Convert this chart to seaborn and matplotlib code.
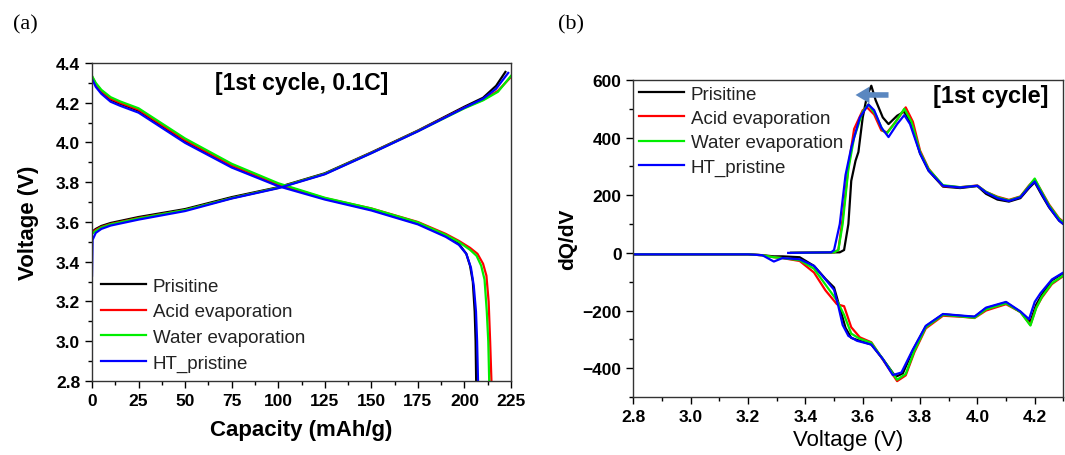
import numpy as np
import pandas as pd
import seaborn as sns
import matplotlib.pyplot as plt
from matplotlib.ticker import MultipleLocator

# ---- data ----
names = ["Prisitine", "Acid evaporation", "Water evaporation", "HT_pristine"]
colors = ["#000000", "#ff0000", "#00ee00", "#0000ff"]

# (a) charge curves: capacity (mAh/g) vs voltage (V)
cap_chg_pri = [0, 2, 5, 10, 25, 50, 75, 100, 125, 150, 175, 200, 210, 217, 222]
v_chg_pri = [3.55, 3.565, 3.58, 3.595, 3.625, 3.665, 3.725, 3.775, 3.845, 3.95, 4.06, 4.18, 4.225, 4.285, 4.355]
cap_chg_acid = [0, 2, 5, 10, 25, 50, 75, 100, 125, 150, 175, 200, 210, 218, 225]
v_chg_acid = [3.545, 3.56, 3.575, 3.59, 3.62, 3.66, 3.72, 3.772, 3.842, 3.948, 4.058, 4.175, 4.215, 4.26, 4.33]
cap_chg_water = [0, 2, 5, 10, 25, 50, 75, 100, 125, 150, 175, 200, 210, 218, 225]
v_chg_water = [3.54, 3.555, 3.572, 3.588, 3.618, 3.66, 3.72, 3.772, 3.842, 3.947, 4.057, 4.172, 4.212, 4.255, 4.335]
cap_chg_ht = [0, 0.3, 2, 5, 10, 25, 50, 75, 100, 125, 150, 175, 200, 210, 217, 223.5]
v_chg_ht = [3.33, 3.51, 3.545, 3.565, 3.582, 3.612, 3.655, 3.718, 3.77, 3.84, 3.946, 4.056, 4.175, 4.22, 4.27, 4.35]

# (a) discharge curves
cap_dis_pri = [0, 2, 5, 10, 15, 25, 50, 75, 100, 125, 150, 175, 190, 197, 201, 203, 204.5, 205.5, 206, 206.3]
v_dis_pri = [4.33, 4.29, 4.255, 4.215, 4.195, 4.16, 4.005, 3.88, 3.785, 3.717, 3.662, 3.592, 3.53, 3.49, 3.44, 3.38, 3.3, 3.15, 3.0, 2.8]
cap_dis_acid = [0, 2, 5, 10, 15, 25, 50, 75, 100, 125, 150, 175, 190, 197, 203, 207, 210, 211.8, 213, 213.8, 214.5]
v_dis_acid = [4.33, 4.295, 4.26, 4.22, 4.2, 4.165, 4.012, 3.885, 3.79, 3.72, 3.668, 3.6, 3.54, 3.505, 3.47, 3.44, 3.39, 3.33, 3.2, 3.0, 2.8]
cap_dis_water = [0, 2, 5, 10, 15, 25, 50, 75, 100, 125, 150, 175, 190, 197, 203, 206.5, 209, 210.8, 212, 212.8, 213.3]
v_dis_water = [4.335, 4.3, 4.265, 4.228, 4.207, 4.172, 4.02, 3.893, 3.795, 3.722, 3.668, 3.598, 3.535, 3.5, 3.46, 3.43, 3.38, 3.31, 3.15, 3.0, 2.8]
cap_dis_ht = [0, 2, 5, 10, 15, 25, 50, 75, 100, 125, 150, 175, 190, 197, 201, 203.5, 205, 206.2, 206.8, 207.3]
v_dis_ht = [4.32, 4.28, 4.245, 4.205, 4.185, 4.15, 3.998, 3.874, 3.78, 3.713, 3.658, 3.588, 3.525, 3.485, 3.44, 3.37, 3.28, 3.15, 3.0, 2.8]

# (b) dQ/dV, charge branch
v_ox_pri = [3.35, 3.52, 3.535, 3.55, 3.56, 3.575, 3.585, 3.60, 3.615, 3.63, 3.645, 3.67, 3.69, 3.72, 3.745, 3.77, 3.80, 3.83, 3.88, 3.94, 4.0, 4.03, 4.07, 4.11, 4.15, 4.18, 4.2, 4.225, 4.25, 4.285, 4.3]
q_ox_pri = [0, 2, 10, 100, 250, 320, 350, 470, 545, 580, 530, 470, 447, 476, 490, 445, 345, 285, 230, 225, 232, 205, 185, 178, 190, 225, 245, 200, 158, 112, 100]
v_ox_acid = [3.35, 3.50, 3.515, 3.53, 3.55, 3.57, 3.60, 3.615, 3.64, 3.665, 3.685, 3.715, 3.75, 3.775, 3.80, 3.83, 3.88, 3.94, 4.0, 4.03, 4.07, 4.11, 4.15, 4.18, 4.2, 4.225, 4.25, 4.285, 4.3]
q_ox_acid = [0, 2, 10, 120, 300, 430, 495, 505, 480, 425, 418, 455, 505, 455, 355, 292, 232, 228, 234, 212, 195, 184, 196, 234, 255, 212, 168, 120, 108]
v_ox_water = [3.35, 3.50, 3.515, 3.53, 3.55, 3.57, 3.60, 3.62, 3.645, 3.67, 3.685, 3.715, 3.745, 3.77, 3.80, 3.83, 3.88, 3.94, 4.0, 4.03, 4.07, 4.11, 4.15, 4.18, 4.2, 4.225, 4.25, 4.285, 4.3]
q_ox_water = [0, 2, 10, 100, 290, 400, 490, 515, 480, 425, 415, 455, 500, 455, 350, 290, 235, 228, 233, 212, 193, 182, 195, 232, 258, 210, 165, 118, 105]
v_ox_ht = [3.34, 3.49, 3.50, 3.52, 3.54, 3.56, 3.59, 3.62, 3.64, 3.665, 3.69, 3.72, 3.745, 3.765, 3.80, 3.83, 3.88, 3.94, 4.0, 4.03, 4.07, 4.11, 4.15, 4.18, 4.2, 4.225, 4.25, 4.285, 4.3]
q_ox_ht = [0, 2, 10, 100, 270, 365, 470, 515, 495, 435, 402, 447, 478, 447, 345, 285, 233, 227, 233, 210, 190, 180, 193, 228, 248, 204, 160, 112, 100]

# (b) dQ/dV, discharge branch
v_red_pri = [2.8, 3.2, 3.25, 3.29, 3.32, 3.38, 3.43, 3.47, 3.50, 3.52, 3.54, 3.56, 3.59, 3.63, 3.67, 3.715, 3.74, 3.775, 3.82, 3.88, 3.95, 3.99, 4.03, 4.1, 4.15, 4.185, 4.205, 4.225, 4.26, 4.3]
q_red_pri = [-5, -5, -8, -12, -12, -15, -45, -90, -120, -190, -260, -295, -305, -318, -368, -430, -418, -338, -255, -213, -219, -222, -192, -172, -205, -238, -180, -145, -95, -70]
v_red_acid = [2.8, 3.2, 3.25, 3.29, 3.32, 3.38, 3.43, 3.47, 3.51, 3.535, 3.56, 3.59, 3.63, 3.67, 3.72, 3.75, 3.78, 3.82, 3.88, 3.95, 3.99, 4.03, 4.1, 4.15, 4.185, 4.205, 4.225, 4.26, 4.3]
q_red_acid = [-5, -5, -8, -15, -18, -28, -68, -130, -178, -185, -258, -293, -310, -370, -445, -425, -345, -262, -218, -222, -226, -200, -178, -205, -250, -190, -155, -108, -80]
v_red_water = [2.8, 3.2, 3.25, 3.29, 3.32, 3.38, 3.43, 3.47, 3.51, 3.535, 3.56, 3.59, 3.63, 3.67, 3.72, 3.75, 3.78, 3.82, 3.88, 3.95, 3.99, 4.03, 4.1, 4.15, 4.185, 4.205, 4.225, 4.26, 4.3]
q_red_water = [-5, -5, -8, -15, -18, -25, -55, -110, -165, -215, -280, -298, -312, -368, -440, -420, -340, -258, -215, -221, -225, -196, -175, -205, -252, -192, -152, -105, -78]
v_red_ht = [2.8, 3.2, 3.25, 3.29, 3.32, 3.38, 3.43, 3.46, 3.50, 3.515, 3.53, 3.55, 3.58, 3.63, 3.67, 3.705, 3.735, 3.775, 3.82, 3.88, 3.95, 3.99, 4.03, 4.1, 4.15, 4.18, 4.2, 4.22, 4.26, 4.3]
q_red_ht = [-5, -5, -8, -30, -18, -22, -45, -80, -128, -185, -250, -288, -305, -318, -368, -424, -415, -335, -253, -212, -218, -221, -190, -170, -203, -230, -170, -140, -92, -68]

plt.rcParams['font.family'] = ['Liberation Sans', 'DejaVu Sans']
plt.rcParams['font.weight'] = 'bold'
plt.rcParams['axes.labelweight'] = 'bold'

charge_a = [(cap_chg_pri, v_chg_pri), (cap_chg_acid, v_chg_acid), (cap_chg_water, v_chg_water), (cap_chg_ht, v_chg_ht)]
discharge_a = [(cap_dis_pri, v_dis_pri), (cap_dis_acid, v_dis_acid), (cap_dis_water, v_dis_water), (cap_dis_ht, v_dis_ht)]
ox_b = [(v_ox_pri, q_ox_pri), (v_ox_acid, q_ox_acid), (v_ox_water, q_ox_water), (v_ox_ht, q_ox_ht)]
red_b = [(v_red_pri, q_red_pri), (v_red_acid, q_red_acid), (v_red_water, q_red_water), (v_red_ht, q_red_ht)]

fig = plt.figure(figsize=(10.65, 4.56), dpi=100)
ax1 = fig.add_axes([0.0864, 0.1623, 0.3934, 0.6974])
ax2 = fig.add_axes([0.5947, 0.1272, 0.4038, 0.6952])

lw = 1.6
for i in range(4):
    x, y = charge_a[i]
    sns.lineplot(x=x, y=y, ax=ax1, color=colors[i], lw=lw, sort=False, label=names[i])
    x, y = discharge_a[i]
    sns.lineplot(x=x, y=y, ax=ax1, color=colors[i], lw=lw, sort=False)
    x, y = ox_b[i]
    sns.lineplot(x=x, y=y, ax=ax2, color=colors[i], lw=lw, sort=False, label=names[i])
    x, y = red_b[i]
    sns.lineplot(x=x, y=y, ax=ax2, color=colors[i], lw=lw, sort=False)

# panel (a)
ax1.set_xlim(0, 225)
ax1.set_ylim(2.8, 4.4)
ax1.xaxis.set_major_locator(MultipleLocator(25))
ax1.xaxis.set_minor_locator(MultipleLocator(12.5))
ax1.yaxis.set_major_locator(MultipleLocator(0.2))
ax1.yaxis.set_minor_locator(MultipleLocator(0.1))
ax1.yaxis.set_major_formatter(plt.FormatStrFormatter('%.1f'))
ax1.set_xlabel("Capacity (mAh/g)", fontsize=16, labelpad=8)
ax1.set_ylabel("Voltage (V)", fontsize=16, labelpad=12)
ax1.text(0.5, 0.94, "[1st cycle, 0.1C]", transform=ax1.transAxes, ha='center', va='center', fontsize=16.5)
leg1 = ax1.legend(loc='lower left', frameon=False, handlelength=2.4, handletextpad=0.35,
                  labelspacing=0.45, borderaxespad=0.4, borderpad=0.1, prop={'weight': 'normal', 'size': 13.5})

# panel (b)
ax2.set_xlim(2.8, 4.3)
ax2.set_ylim(-500, 600)
ax2.xaxis.set_major_locator(MultipleLocator(0.2))
ax2.xaxis.set_minor_locator(MultipleLocator(0.1))
ax2.xaxis.set_major_formatter(plt.FormatStrFormatter('%.1f'))
ax2.yaxis.set_major_locator(MultipleLocator(200))
ax2.yaxis.set_minor_locator(MultipleLocator(100))
ax2.set_xlabel("Voltage (V)", fontsize=16, fontweight='normal', labelpad=4)
ax2.set_ylabel("dQ/dV", fontsize=15, labelpad=4)
ax2.text(0.83, 0.95, "[1st cycle]", transform=ax2.transAxes, ha='center', va='center', fontsize=17)
leg2 = ax2.legend(loc='upper left', frameon=False, handlelength=2.4, handletextpad=0.35,
                  labelspacing=0.38, borderaxespad=0.2, borderpad=0.1, prop={'weight': 'normal', 'size': 13.5})
ax2.annotate("", xy=(3.575, 548), xytext=(3.69, 548),
             arrowprops=dict(arrowstyle='simple,head_length=0.5,head_width=0.6,tail_width=0.2',
                             mutation_scale=20, color='#5a87c0', lw=0, shrinkA=0, shrinkB=0))

for ax in (ax1, ax2):
    ax.tick_params(which='major', direction='out', length=5, width=1, labelsize=12.5)
    ax.tick_params(which='minor', direction='out', length=3, width=1)
    for s in ax.spines.values():
        s.set_linewidth(1)
        s.set_color('#333333')
    for t in ax.legend_.get_texts():
        t.set_color('#222222')

fig.text(0.012, 0.945, "(a)", fontsize=16, family=['Liberation Serif'], fontweight='normal', va='center')
fig.text(0.524, 0.945, "(b)", fontsize=16, family=['Liberation Serif'], fontweight='normal', va='center')

fig.savefig("out.png", dpi=100)
